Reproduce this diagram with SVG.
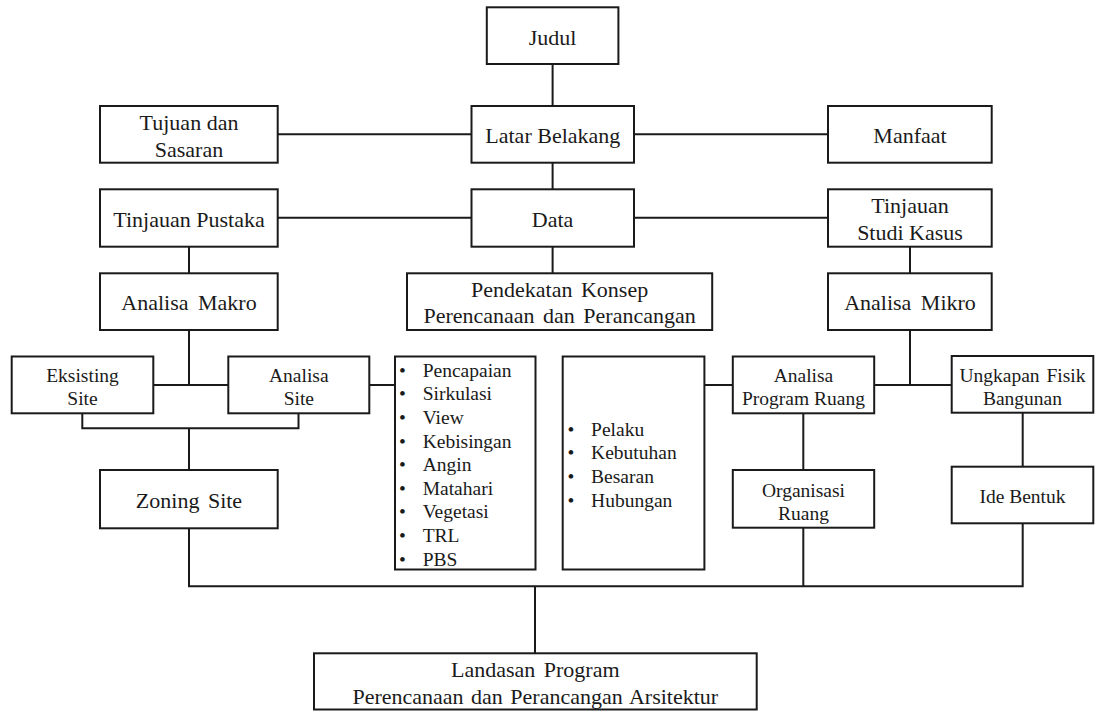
<svg xmlns="http://www.w3.org/2000/svg" width="1098" height="711" viewBox="0 0 1098 711">
<style>
rect.b{fill:#fff;stroke:#1a1a1a;stroke-width:2}
#connectors line,#connectors polyline{stroke:#1a1a1a;stroke-width:2;fill:none}
text{fill:#1a1a1a;font-family:"Liberation Serif","Times New Roman",Times,Tinos,"Nimbus Roman","Nimbus Roman No9 L",FreeSerif,"Noto Serif","DejaVu Serif",Georgia,serif}
.m{font-size:22px;text-anchor:middle}
.s{font-size:19.5px;text-anchor:middle}
.l{font-size:19.5px}
</style>
<rect width="1098" height="711" fill="#fff"/>
<g id="connectors">
<line x1="552.6" y1="64" x2="552.6" y2="106"/>
<line x1="552.6" y1="162.7" x2="552.6" y2="189.3"/>
<line x1="552.6" y1="246.7" x2="552.6" y2="273.3"/>
<line x1="277.7" y1="134.3" x2="471.5" y2="134.3"/>
<line x1="634" y1="134.3" x2="828" y2="134.3"/>
<line x1="277.7" y1="217.7" x2="471.5" y2="217.7"/>
<line x1="634" y1="217.7" x2="828" y2="217.7"/>
<line x1="189" y1="246.7" x2="189" y2="273.3"/>
<line x1="910" y1="246.7" x2="910" y2="273.3"/>
<line x1="189" y1="330" x2="189" y2="385"/>
<line x1="153.3" y1="385" x2="228.3" y2="385"/>
<line x1="369.3" y1="385" x2="395" y2="385"/>
<polyline points="82.3,413.3 82.3,428.3 298.5,428.3 298.5,413.3"/>
<line x1="189" y1="428.3" x2="189" y2="470"/>
<polyline points="189,528.3 189,586.3 1022.7,586.3 1022.7,523.3"/>
<line x1="803.3" y1="527.7" x2="803.3" y2="586.3"/>
<line x1="535" y1="586.3" x2="535" y2="653.3"/>
<line x1="704.4" y1="385" x2="732.8" y2="385"/>
<line x1="874.2" y1="385" x2="951.7" y2="385"/>
<line x1="910" y1="330" x2="910" y2="385"/>
<line x1="803.3" y1="413.3" x2="803.3" y2="470"/>
<line x1="1022.7" y1="412.7" x2="1022.7" y2="466.7"/>
</g>
<g id="judul"><rect class="b" x="486.8" y="7.3" width="131.6" height="56.7"/><text class="m" x="552.6" y="45">Judul</text></g>
<g id="latar-belakang"><rect class="b" x="471.5" y="106" width="162.5" height="56.7"/><text class="m" x="552.8" y="142.7">Latar Belakang</text></g>
<g id="tujuan"><rect class="b" x="100" y="106" width="177.7" height="56.7"/><text class="m" x="189" y="130">Tujuan dan</text><text class="m" x="189" y="156.7">Sasaran</text></g>
<g id="manfaat"><rect class="b" x="828" y="106" width="163.7" height="56.7"/><text class="m" x="910" y="142.7">Manfaat</text></g>
<g id="tinjauan-pustaka"><rect class="b" x="100" y="189.3" width="177.7" height="57.4"/><text class="m" x="189" y="226.7">Tinjauan Pustaka</text></g>
<g id="data"><rect class="b" x="471.5" y="189.3" width="162.5" height="57.4"/><text class="m" x="552.6" y="226.7">Data</text></g>
<g id="tinjauan-studi-kasus"><rect class="b" x="828" y="189.3" width="163.7" height="57.4"/><text class="m" x="910" y="213.3">Tinjauan</text><text class="m" x="910" y="240">Studi Kasus</text></g>
<g id="analisa-makro"><rect class="b" x="100" y="273.3" width="177.7" height="56.7"/><text class="m" x="189" y="310" word-spacing="4">Analisa Makro</text></g>
<g id="pendekatan-konsep"><rect class="b" x="407" y="273.3" width="305.2" height="56.7"/><text class="m" x="559.6" y="296.7" word-spacing="3">Pendekatan Konsep</text><text class="m" x="559.6" y="323.3" word-spacing="3">Perencanaan dan Perancangan</text></g>
<g id="analisa-mikro"><rect class="b" x="828" y="273.3" width="163.7" height="56.7"/><text class="m" x="910" y="310" word-spacing="4">Analisa Mikro</text></g>
<g id="eksisting-site"><rect class="b" x="11.7" y="356.5" width="141.6" height="56.8"/><text class="s" x="82.5" y="381.7">Eksisting</text><text class="s" x="82.5" y="405">Site</text></g>
<g id="analisa-site"><rect class="b" x="228.3" y="356.5" width="141" height="56.8"/><text class="s" x="298.8" y="381.7">Analisa</text><text class="s" x="298.8" y="405">Site</text></g>
<g id="faktor-site"><rect class="b" x="395" y="356.5" width="140.5" height="213"/>
<text class="l" x="399" y="376.7">•</text><text class="l" x="422.7" y="376.7">Pencapaian</text>
<text class="l" x="399" y="400.3">•</text><text class="l" x="422.7" y="400.3">Sirkulasi</text>
<text class="l" x="399" y="423.9">•</text><text class="l" x="422.7" y="423.9">View</text>
<text class="l" x="399" y="447.5">•</text><text class="l" x="422.7" y="447.5">Kebisingan</text>
<text class="l" x="399" y="471.1">•</text><text class="l" x="422.7" y="471.1">Angin</text>
<text class="l" x="399" y="494.7">•</text><text class="l" x="422.7" y="494.7">Matahari</text>
<text class="l" x="399" y="518.3">•</text><text class="l" x="422.7" y="518.3">Vegetasi</text>
<text class="l" x="399" y="541.9">•</text><text class="l" x="422.7" y="541.9">TRL</text>
<text class="l" x="399" y="565.5">•</text><text class="l" x="422.7" y="565.5">PBS</text>
</g>
<g id="faktor-ruang"><rect class="b" x="562.7" y="356.5" width="141.7" height="213"/>
<text class="l" x="567.5" y="435.7">•</text><text class="l" x="591.1" y="435.7">Pelaku</text>
<text class="l" x="567.5" y="459.3">•</text><text class="l" x="591.1" y="459.3">Kebutuhan</text>
<text class="l" x="567.5" y="482.9">•</text><text class="l" x="591.1" y="482.9">Besaran</text>
<text class="l" x="567.5" y="506.5">•</text><text class="l" x="591.1" y="506.5">Hubungan</text>
</g>
<g id="zoning-site"><rect class="b" x="100" y="470" width="177.7" height="58.3"/><text class="m" x="189" y="508.3" word-spacing="3">Zoning Site</text></g>
<g id="analisa-program-ruang"><rect class="b" x="732.8" y="356.5" width="141.4" height="56.8"/><text class="s" x="803.5" y="381.7">Analisa</text><text class="s" x="803.5" y="405">Program Ruang</text></g>
<g id="organisasi-ruang"><rect class="b" x="732.8" y="470" width="141.4" height="57.7"/><text class="s" x="803.5" y="496.7">Organisasi</text><text class="s" x="803.5" y="520">Ruang</text></g>
<g id="ungkapan-fisik"><rect class="b" x="951.7" y="356" width="141.6" height="56.7"/><text class="s" x="1022.5" y="381.7" word-spacing="2">Ungkapan Fisik</text><text class="s" x="1022.5" y="405">Bangunan</text></g>
<g id="ide-bentuk"><rect class="b" x="951.7" y="466.7" width="141.6" height="56.6"/><text class="s" x="1022.5" y="503.3">Ide Bentuk</text></g>
<g id="landasan"><rect class="b" x="314" y="653.3" width="442.7" height="56.2"/><text class="m" x="535.3" y="677.3" word-spacing="3">Landasan Program</text><text class="m" x="535.3" y="704" word-spacing="2">Perencanaan dan Perancangan Arsitektur</text></g>
</svg>
